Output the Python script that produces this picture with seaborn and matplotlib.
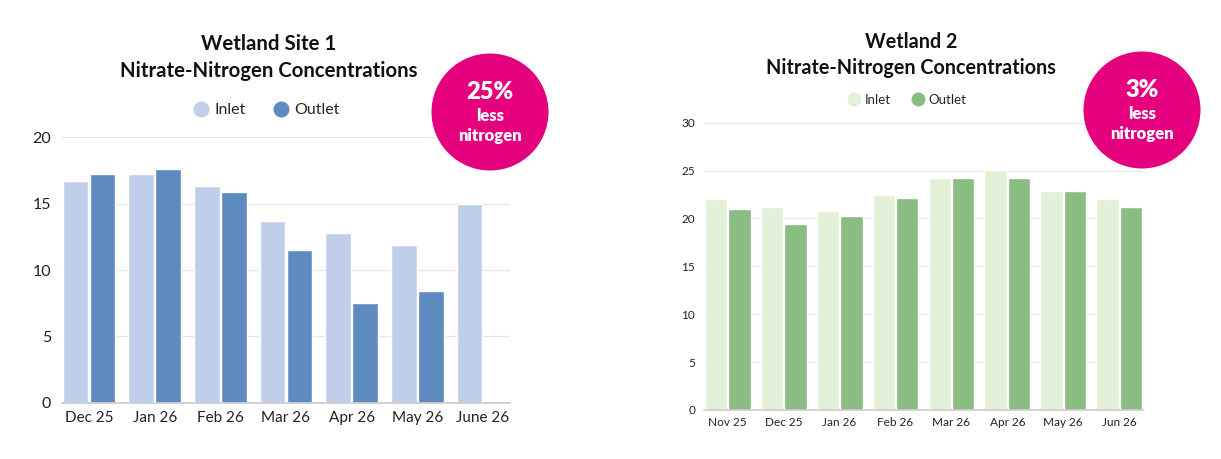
import numpy as np
import pandas as pd
import matplotlib
matplotlib.use("Agg")
import matplotlib.pyplot as plt
from matplotlib.lines import Line2D
from matplotlib.patches import Circle
import seaborn as sns

# ---- data ----
site1_months = ["Dec 25", "Jan 26", "Feb 26", "Mar 26", "Apr 26", "May 26", "June 26"]
site1_inlet = [16.7, 17.2, 16.3, 13.7, 12.8, 11.9, 15.0]
site1_outlet = [17.2, 17.6, 15.9, 11.5, 7.5, 8.4, np.nan]
site1_yticks = [0, 5, 10, 15, 20]
site1_badge = ["25%", "less", "nitrogen"]

site2_months = ["Nov 25", "Dec 25", "Jan 26", "Feb 26", "Mar 26", "Apr 26", "May 26", "Jun 26"]
site2_inlet = [22.0, 21.2, 20.8, 22.5, 24.2, 25.1, 22.9, 22.0]
site2_outlet = [21.0, 19.4, 20.3, 22.1, 24.2, 24.2, 22.9, 21.2]
site2_yticks = [0, 5, 10, 15, 20, 25, 30]
site2_badge = ["3%", "less", "nitrogen"]

series_names = ["Inlet", "Outlet"]
site1_colors = ["#bfcfe9", "#5e8bbf"]
site2_colors = ["#e3f0d8", "#8abd82"]
pink = "#e5007e"

sns.set_theme(style="white")
plt.rcParams["font.family"] = ["Lato", "DejaVu Sans"]

W, H = 1221, 459
fig = plt.figure(figsize=(W / 100, H / 100), dpi=100)


def px_axes(x0, y0, x1, y1):
    return fig.add_axes([x0 / W, 1 - y1 / H, (x1 - x0) / W, (y1 - y0) / H])


def draw(ax, months, inlet, outlet, colors, yticks, width, gap, fs):
    df = pd.DataFrame({
        "month": months * 2,
        "value": list(inlet) + list(outlet),
        "series": [series_names[0]] * len(months) + [series_names[1]] * len(months),
    })
    sns.barplot(data=df, x="month", y="value", hue="series", order=months,
                hue_order=series_names, palette=colors, width=width, gap=gap,
                saturation=1, legend=False, ax=ax, zorder=2)
    ax.set_xlim(-width / 2, len(months) - 1 + width / 2)
    ax.set_ylim(yticks[0], yticks[-1])
    ax.set_yticks(yticks)
    ax.set_xlabel("")
    ax.set_ylabel("")
    ax.grid(axis="y", color="#e6e6e6", lw=1, zorder=0)
    ax.set_axisbelow(True)
    for s in ["top", "right", "left"]:
        ax.spines[s].set_visible(False)
    ax.spines["bottom"].set_color("#cccccc")
    ax.spines["bottom"].set_zorder(3)
    ax.tick_params(axis="both", length=0, labelsize=fs, colors="#222222")


ax1 = px_axes(62, 137.3, 510, 402.7)
draw(ax1, site1_months, site1_inlet, site1_outlet, site1_colors, site1_yticks, 0.824, 0.05, 11)
ax1.tick_params(axis="y", pad=8, labelsize=11.5)
ax1.tick_params(axis="x", pad=6)

ax2 = px_axes(704.3, 122.7, 1142.7, 410)
draw(ax2, site2_months, site2_inlet, site2_outlet, site2_colors, site2_yticks, 0.84, 0.05, 8.5)
ax2.tick_params(axis="y", pad=6.5)
ax2.tick_params(axis="x", pad=5)

# titles
fig.text(269 / W, 1 - 57.5 / H, "Wetland Site 1\nNitrate-Nitrogen Concentrations", ha="center",
         va="center", fontsize=14.7, fontweight="bold", color="#111111", linespacing=1.38)
fig.text(911 / W, 1 - 55 / H, "Wetland 2\nNitrate-Nitrogen Concentrations", ha="center",
         va="center", fontsize=14.2, fontweight="bold", color="#111111", linespacing=1.42)

# legends
h1 = [Line2D([], [], marker="o", ls="", color=c, markersize=10.5) for c in site1_colors]
fig.legend(h1, series_names, loc="center", bbox_to_anchor=(266 / W, 1 - 110 / H), ncol=2,
           frameon=False, fontsize=11.5, handlelength=1.0, handletextpad=0.35,
           columnspacing=1.7)
h2 = [Line2D([], [], marker="o", ls="", color=c, markersize=9) for c in site2_colors]
fig.legend(h2, series_names, loc="center", bbox_to_anchor=(907 / W, 1 - 100 / H), ncol=2,
           frameon=False, fontsize=9.5, handlelength=1.0, handletextpad=0.3,
           columnspacing=1.6)

# badges overlay
ov = fig.add_axes([0, 0, 1, 1], zorder=10)
ov.set_xlim(0, W)
ov.set_ylim(H, 0)
ov.axis("off")
for cx, cy, texts in [(490, 112, site1_badge), (1142, 110, site2_badge)]:
    ov.add_patch(Circle((cx, cy), 58.5, color=pink, lw=0))
    ov.text(cx, cy - 20, texts[0], ha="center", va="center", color="white",
            fontsize=17, fontweight="heavy")
    ov.text(cx, cy + 4, texts[1], ha="center", va="center", color="white",
            fontsize=12, fontweight="heavy")
    ov.text(cx, cy + 24, texts[2], ha="center", va="center", color="white",
            fontsize=12, fontweight="heavy")

fig.savefig("out.png", dpi=100, facecolor="white")
